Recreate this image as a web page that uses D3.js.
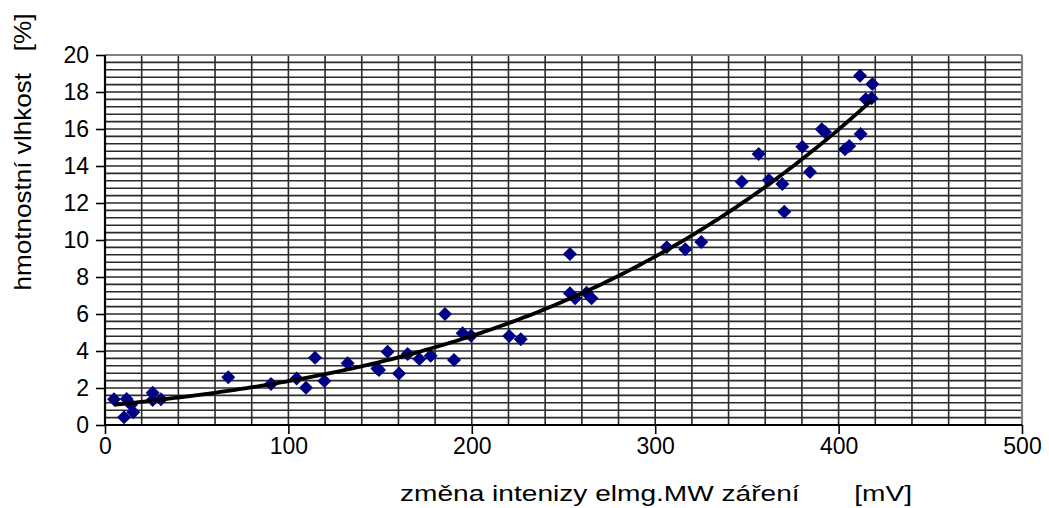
<!DOCTYPE html>
<html>
<head>
<meta charset="utf-8">
<script src="https://cdn.jsdelivr.net/npm/d3@7"></script>
<style>
  html, body { margin: 0; padding: 0; background: #fff; }
  svg { display: block; font-family: "Liberation Sans", Arial, sans-serif; }
</style>
</head>
<body>
<svg id="chart" width="1049" height="508"></svg>
<script>
// Change of microwave signal intensity [mV] vs. gravimetric moisture [%]
const signalMV = [4.9, 10.4, 11.8, 14.2, 15.4, 26, 26, 30.5, 67.2, 90.5, 104.5, 109.6, 114.5, 119.6,
  132.3, 148.5, 149.4, 154.1, 160.3, 165, 171.4, 177.6, 185.4, 190.3, 195, 199.6, 220.4, 226.7,
  253.5, 253.5, 256.3, 262.6, 265.3, 306.3, 316.4, 325.1, 347.2, 356.4, 362, 369.3, 370.4,
  380.2, 384.4, 390.8, 392.6, 403.5, 405.8, 412.0, 411.7, 418.4, 414.8, 418.0];
const moisture = [1.39, 0.42, 1.41, 1.1, 0.69, 1.75, 1.35, 1.39, 2.58, 2.22, 2.52, 2.02, 3.64, 2.38,
  3.34, 3.05, 2.97, 3.96, 2.79, 3.84, 3.57, 3.75, 6.0, 3.51, 4.96, 4.83, 4.81, 4.63,
  9.24, 7.12, 6.85, 7.15, 6.85, 9.61, 9.50, 9.89, 13.15, 14.65, 13.24, 13.03, 11.53,
  15.04, 13.68, 15.98, 15.84, 14.9, 15.08, 15.73, 18.88, 18.43, 17.61, 17.66];

const xTicks = [0, 100, 200, 300, 400, 500];
const yTicks = [0, 2, 4, 6, 8, 10, 12, 14, 16, 18, 20];
const xTitle = "změna intenizy elmg.MW záření       [mV]";
const yTitle = "hmotnostní vlhkost   [%]";

const svg = d3.select("#chart");
const padL = 105, padR = 1022, padT = 55, padB = 425;

const x = d3.scaleLinear().domain([0, 500]).range([padL, padR]);
const y = d3.scaleLinear().domain([0, 20]).range([padB, padT]);

// grid: every 20 mV and every 0.4 %
const g = svg.append("g");
g.selectAll("line.vg").data(d3.range(20, 500, 20)).join("line")
  .attr("x1", d => x(d)).attr("x2", d => x(d))
  .attr("y1", padT).attr("y2", padB)
  .attr("stroke", "#2a2a2a").attr("stroke-width", 1.6);
g.selectAll("line.hg").data(d3.range(1, 50).map(i => i * 0.4)).join("line")
  .attr("x1", padL).attr("x2", padR)
  .attr("y1", d => y(d)).attr("y2", d => y(d))
  .attr("stroke", "#2a2a2a").attr("stroke-width", 1.6);

// plot-area frame (top/right)
svg.append("line").attr("x1", padL).attr("x2", padR).attr("y1", padT).attr("y2", padT)
  .attr("stroke", "#808080").attr("stroke-width", 2.2);
svg.append("line").attr("x1", padR).attr("x2", padR).attr("y1", padT).attr("y2", padB)
  .attr("stroke", "#808080").attr("stroke-width", 2.2);

// axes
const xAxis = svg.append("g").attr("transform", `translate(0,${padB})`)
  .call(d3.axisBottom(x).tickValues(xTicks).tickSize(9).tickPadding(4));
const yAxis = svg.append("g").attr("transform", `translate(${padL},0)`)
  .call(d3.axisLeft(y).tickValues(yTicks).tickSize(9).tickPadding(7));
[xAxis, yAxis].forEach(a => {
  a.select(".domain").attr("stroke", "#000").attr("stroke-width", 2.2);
  a.selectAll(".tick line").attr("stroke", "#000").attr("stroke-width", 1.6);
  a.selectAll(".tick text").attr("font-size", 23).attr("fill", "#000")
    .attr("font-family", "'Liberation Sans', Arial, sans-serif");
});
xAxis.select(".domain").attr("d", `M${padL},0H${padR}`);
yAxis.select(".domain").attr("d", `M0,${padB}V${padT}`);

// cubic least-squares trend line
function polyFit(xs, ys, deg) {
  const n = deg + 1, s = 100;
  const A = Array.from({length: n}, () => new Array(n + 1).fill(0));
  xs.forEach((xv, k) => {
    const t = xv / s;
    for (let i = 0; i < n; i++) {
      for (let j = 0; j < n; j++) A[i][j] += Math.pow(t, i + j);
      A[i][n] += ys[k] * Math.pow(t, i);
    }
  });
  for (let i = 0; i < n; i++) {
    let p = i;
    for (let r = i + 1; r < n; r++) if (Math.abs(A[r][i]) > Math.abs(A[p][i])) p = r;
    [A[i], A[p]] = [A[p], A[i]];
    for (let r = 0; r < n; r++) {
      if (r === i) continue;
      const f = A[r][i] / A[i][i];
      for (let c = i; c <= n; c++) A[r][c] -= f * A[i][c];
    }
  }
  const coef = A.map((row, i) => row[n] / row[i]);
  return xv => coef.reduce((acc, c, i) => acc + c * Math.pow(xv / s, i), 0);
}
const fit = polyFit(signalMV, moisture, 3);
const [xmin, xmax] = d3.extent(signalMV);
const trend = d3.range(0, 201).map(i => xmin + (xmax - xmin) * i / 200);

// data markers (navy diamonds)
svg.append("g").selectAll("path").data(signalMV.map((v, i) => [v, moisture[i]])).join("path")
  .attr("transform", d => `translate(${x(d[0])},${y(d[1])})`)
  .attr("d", "M0,-7L7,0L0,7L-7,0Z")
  .attr("fill", "#000085");

// trend line over the markers
svg.append("path").datum(trend)
  .attr("fill", "none").attr("stroke", "#000").attr("stroke-width", 3.8)
  .attr("d", d3.line().x(d => x(d)).y(d => y(fit(d))));

// axis titles
svg.append("text").attr("x", 656).attr("y", 501).attr("text-anchor", "middle")
  .attr("font-size", 22).style("white-space", "pre")
  .attr("textLength", 512).attr("lengthAdjust", "spacingAndGlyphs")
  .text(xTitle);
svg.append("text").attr("transform", "translate(31,152) rotate(-90)").attr("text-anchor", "middle")
  .attr("font-size", 24).style("white-space", "pre")
  .attr("textLength", 277).attr("lengthAdjust", "spacingAndGlyphs")
  .text(yTitle);
</script>
</body>
</html>
